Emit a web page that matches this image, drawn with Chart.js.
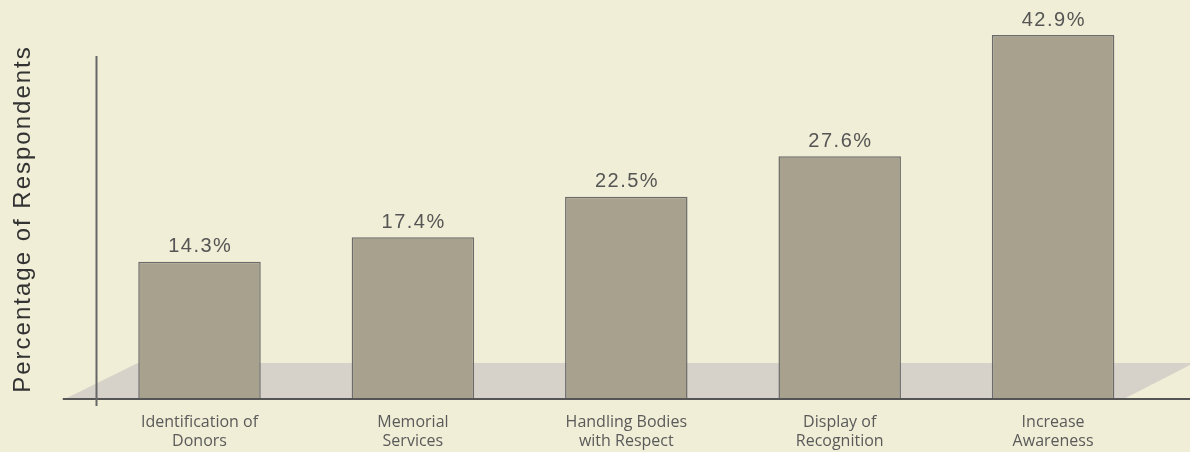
<!DOCTYPE html>
<html>
<head>
<meta charset="utf-8">
<script src="https://cdn.jsdelivr.net/npm/chart.js@4.4.1/dist/chart.umd.min.js"></script>
<style>
  html, body { margin: 0; padding: 0; background: #f0eed6; }
  #wrap { width: 1190px; height: 452px; }
</style>
</head>
<body>
<div id="wrap"><canvas id="c" width="1190" height="452"></canvas></div>
<script>
const categories = [
  ["Identification of", "Donors"],
  ["Memorial", "Services"],
  ["Handling Bodies", "with Respect"],
  ["Display of", "Recognition"],
  ["Increase", "Awareness"]
];
const values = [14.3, 17.4, 22.5, 27.6, 42.9];
const valueLabels = ["14.3%", "17.4%", "22.5%", "27.6%", "42.9%"];
const yTitle = "Percentage of Respondents";

const Y_MIN = -3.15;
const Y_MAX = 44.8;

const bgPlugin = {
  id: 'bg',
  beforeDraw(chart) {
    const ctx = chart.ctx;
    ctx.save();
    ctx.fillStyle = '#f0eed6';
    ctx.fillRect(0, 0, chart.width, chart.height);
    ctx.restore();
  }
};

const floorPlugin = {
  id: 'floor',
  beforeDatasetsDraw(chart) {
    const {ctx, chartArea: a} = chart;
    ctx.save();
    ctx.fillStyle = '#d6d2ca';
    ctx.beginPath();
    ctx.moveTo(a.left - 30, a.bottom);
    ctx.lineTo(a.left + 45, a.bottom - 37);
    ctx.lineTo(a.right + 34, a.bottom - 37);
    ctx.lineTo(a.right - 38, a.bottom);
    ctx.closePath();
    ctx.fill();
    ctx.restore();
  }
};

const axesPlugin = {
  id: 'axes',
  afterDatasetsDraw(chart) {
    const {ctx, chartArea: a, scales} = chart;
    ctx.save();
    ctx.strokeStyle = '#555555';
    ctx.lineWidth = 2;
    ctx.beginPath();
    ctx.moveTo(a.left - 30, a.bottom - 1);
    ctx.lineTo(chart.width, a.bottom - 1);
    ctx.stroke();
    ctx.strokeStyle = '#666666';
    ctx.beginPath();
    ctx.moveTo(a.left + 3.7, scales.y.getPixelForValue(40.25));
    ctx.lineTo(a.left + 3.7, a.bottom + 6);
    ctx.stroke();
    ctx.restore();
  }
};

const labelsPlugin = {
  id: 'labels',
  afterDraw(chart) {
    const ctx = chart.ctx;
    const meta = chart.getDatasetMeta(0);
    ctx.save();
    ctx.font = '20px "Liberation Sans", Arial, sans-serif';
    ctx.fillStyle = '#555555';
    ctx.textAlign = 'center';
    ctx.textBaseline = 'alphabetic';
    try { ctx.letterSpacing = '1.5px'; } catch (e) {}
    meta.data.forEach((bar, i) => {
      ctx.fillText(valueLabels[i], bar.x + 0.75, bar.y - 9.5);
    });
    ctx.restore();

    ctx.save();
    ctx.font = '24px "Liberation Sans", Arial, sans-serif';
    ctx.fillStyle = '#333333';
    try { ctx.letterSpacing = '2px'; } catch (e) {}
    ctx.translate(23, 220);
    ctx.rotate(-Math.PI / 2);
    ctx.textAlign = 'center';
    ctx.textBaseline = 'middle';
    ctx.fillText(yTitle, 1, 0);
    ctx.restore();
  }
};

new Chart(document.getElementById('c'), {
  type: 'bar',
  data: {
    labels: categories,
    datasets: [{
      data: values,
      base: Y_MIN,
      backgroundColor: '#a8a18d',
      borderColor: '#6b6b6b',
      borderWidth: 1.5,
      borderSkipped: false,
      barPercentage: 0.574,
      categoryPercentage: 1.0
    }]
  },
  options: {
    responsive: false,
    animation: false,
    devicePixelRatio: 1,
    layout: { padding: { left: 92.8, right: 30.2, top: 20, bottom: 0 } },
    plugins: { legend: { display: false }, tooltip: { enabled: false } },
    scales: {
      x: {
        offset: true,
        grid: { display: false, drawTicks: false },
        border: { display: false },
        ticks: {
          color: '#5a5a5a',
          font: { family: '"Open Sans", Lato, sans-serif', size: 16, lineHeight: 1.2 },
          padding: 13,
          maxRotation: 0,
          autoSkip: false
        },
        afterFit(scale) { scale.height = 52; }
      },
      y: {
        display: false,
        min: Y_MIN,
        max: Y_MAX
      }
    }
  },
  plugins: [bgPlugin, floorPlugin, axesPlugin, labelsPlugin]
});
</script>
</body>
</html>
